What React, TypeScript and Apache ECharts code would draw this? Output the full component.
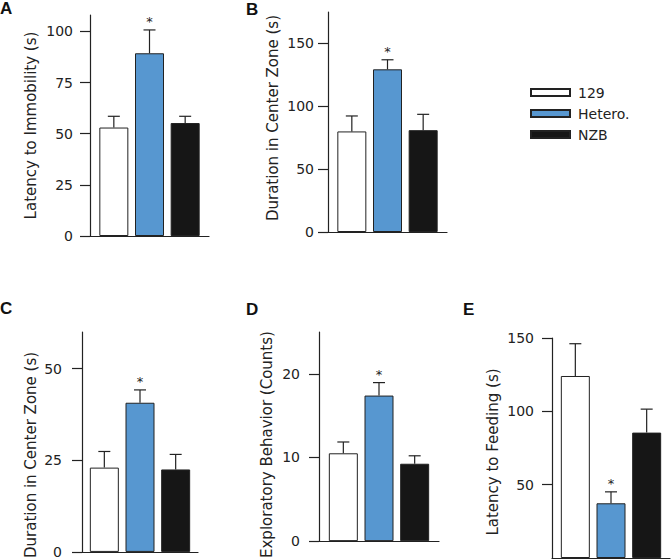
import React, { useEffect, useRef } from "react";
import * as echarts from "echarts";

// ---- data ----
const GROUPS = ["129", "Hetero.", "NZB"];
const SIG = [false, true, false];

const A_MEAN = [53, 89.3, 55.2];
const A_SEM = [5.5, 11.4, 3.3];
const A_TICKS = [0, 25, 50, 75, 100];

const B_MEAN = [80, 129.4, 81];
const B_SEM = [12.3, 7.6, 12.6];
const B_TICKS = [0, 50, 100, 150];

const C_MEAN = [23, 40.7, 22.5];
const C_SEM = [4.4, 3.5, 4.1];
const C_TICKS = [0, 25, 50];

const D_MEAN = [10.5, 17.4, 9.25];
const D_SEM = [1.35, 1.55, 0.95];
const D_TICKS = [0, 10, 20];

const E_MEAN = [124.1, 37.3, 85.5];
const E_SEM = [22, 7.8, 16];
const E_TICKS = [50, 100, 150];

const LETTERS = ["A", "B", "C", "D", "E"];
const Y_NAMES = [
  "Latency to Immobility (s)",
  "Duration in Center Zone (s)",
  "Duration in Center Zone (s)",
  "Exploratory Behavior (Counts)",
  "Latency to Feeding (s)",
];

// ---- styling / layout ----
const COLORS = ["#ffffff", "#5797d0", "#161616"];
const INK = "#222222";
const FONT = "DejaVu Sans";
const BAR_W = 29;
const BAR_GAP = 0.23;
const SPACING = BAR_W * (1 + BAR_GAP);

const PANELS = [
  { mean: A_MEAN, sem: A_SEM, ticks: A_TICKS, max: 108, grid: { left: 90, top: 15, width: 119, height: 221 }, nameGap: 52, pad: [0, 0, 0, 0], margin: 17, letter: { left: 0, top: 0 } },
  { mean: B_MEAN, sem: B_SEM, ticks: B_TICKS, max: 175, grid: { left: 328, top: 12, width: 119, height: 220 }, nameGap: 48, pad: [0, 0, 0, 8], margin: 14, letter: { left: 246, top: 1 } },
  { mean: C_MEAN, sem: C_SEM, ticks: C_TICKS, max: 60, grid: { left: 82, top: 332, width: 116, height: 222 }, nameGap: 44, pad: [0, 26, 0, 0], margin: 20, letter: { left: 0, top: 300 } },
  { mean: D_MEAN, sem: D_SEM, ticks: D_TICKS, max: 25, grid: { left: 319, top: 332, width: 120, height: 221 }, nameGap: 45, pad: [0, 16, 0, 0], margin: 19, letter: { left: 246, top: 301 } },
  { mean: E_MEAN, sem: E_SEM, ticks: E_TICKS, max: 150, grid: { left: 552, top: 338, width: 118, height: 220 }, nameGap: 52, pad: [0, 8, 0, 0], margin: 18, letter: { left: 463, top: 301 } },
];

function buildOption() {
  const grid: any[] = [];
  const xAxis: any[] = [];
  const yAxis: any[] = [];
  const series: any[] = [];
  const title: any[] = [];

  PANELS.forEach((p, i) => {
    grid.push({ ...p.grid, containLabel: false });
    xAxis.push({
      type: "category",
      gridIndex: i,
      data: [""],
      axisLine: { show: true, lineStyle: { color: INK, width: 1.2 } },
      axisTick: { show: false },
      axisLabel: { show: false },
      splitLine: { show: false },
    });
    yAxis.push({
      type: "value",
      gridIndex: i,
      min: 0,
      max: p.max,
      name: Y_NAMES[i],
      nameLocation: "middle",
      nameGap: p.nameGap,
      nameTextStyle: { fontSize: 15, fontFamily: FONT, color: INK, padding: p.pad },
      axisLine: { show: true, lineStyle: { color: INK, width: 1.2 } },
      axisTick: { show: true, length: 10, customValues: p.ticks, lineStyle: { color: INK, width: 1.2 } },
      axisLabel: { customValues: p.ticks, fontSize: 14, fontFamily: FONT, color: INK, margin: p.margin },
      splitLine: { show: false },
    });
    title.push({
      text: LETTERS[i],
      left: p.letter.left,
      top: p.letter.top,
      padding: 0,
      textStyle: { fontSize: 17, fontWeight: "bold", fontFamily: "Liberation Sans", color: "#111" },
    });
    GROUPS.forEach((g, k) => {
      series.push({
        type: "bar",
        name: g,
        xAxisIndex: i,
        yAxisIndex: i,
        data: [p.mean[k]],
        barWidth: BAR_W,
        barGap: BAR_GAP * 100 + "%",
        itemStyle: { color: COLORS[k], borderColor: INK, borderWidth: 1 },
        silent: true,
      });
    });
    series.push({
      type: "custom",
      xAxisIndex: i,
      yAxisIndex: i,
      silent: true,
      z: 5,
      itemStyle: { color: INK },
      encode: { x: 0, y: [1, 2] },
      data: GROUPS.map((_, k) => [0, p.mean[k], p.mean[k] + p.sem[k], k, SIG[k] ? 1 : 0]),
      renderItem: (params: any, api: any) => {
        const k = api.value(3);
        const base = api.coord([0, api.value(1)]);
        const top = api.coord([0, api.value(2)]);
        const x = base[0] + (k - 1) * SPACING;
        const lineStyle = { stroke: INK, lineWidth: 1.2 };
        const children: any[] = [
          { type: "line", shape: { x1: x, y1: base[1], x2: x, y2: top[1] }, style: lineStyle },
          { type: "line", shape: { x1: x - 6, y1: top[1], x2: x + 6, y2: top[1] }, style: lineStyle },
        ];
        if (api.value(4) === 1) {
          children.push({
            type: "text",
            x: x,
            y: top[1] - 2,
            style: { text: "*", fontSize: 13, fontFamily: FONT, fill: INK, textAlign: "center", textVerticalAlign: "bottom" },
          });
        }
        return { type: "group", children };
      },
    });
  });

  return {
    animation: false,
    backgroundColor: "#ffffff",
    title,
    legend: {
      data: GROUPS,
      orient: "vertical",
      left: 525,
      top: 80,
      itemWidth: 39,
      itemHeight: 7,
      itemGap: 6,
      icon: "rect",
      selectedMode: false,
      textStyle: { fontSize: 14, fontFamily: FONT, color: INK, lineHeight: 15, padding: [0, 0, 0, 3] },
    },
    grid,
    xAxis,
    yAxis,
    series,
  };
}

export default function App() {
  const ref = useRef<HTMLDivElement>(null);
  useEffect(() => {
    if (!ref.current) return;
    const chart = echarts.init(ref.current, undefined, { renderer: "svg" });
    chart.setOption(buildOption() as any);
    return () => chart.dispose();
  }, []);
  return (
    <div
      ref={ref}
      style={{ position: "fixed", left: 0, top: 0, width: 671, height: 560, background: "#fff" }}
    />
  );
}
